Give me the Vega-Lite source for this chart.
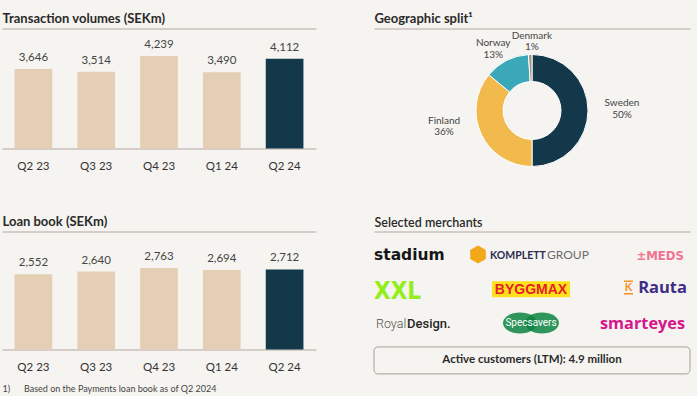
{
  "$schema": "https://vega.github.io/schema/vega-lite/v6.json",
  "background": "#f6f4f0",
  "padding": {"left": 2, "top": 11.5, "right": 4, "bottom": 2},
  "spacing": 55,
  "resolve": {"scale": {"color": "independent"}},
  "config": {
    "font": "Lato",
    "view": {"stroke": null},
    "axis": {"grid": false}
  },
  "hconcat": [
    {
      "bounds": "flush",
      "spacing": 83,
      "vconcat": [
        {
          "width": 314,
          "height": 120,
          "data": {"values": [
            {"quarter": "Q2 23", "value": 3646, "latest": "no"},
            {"quarter": "Q3 23", "value": 3514, "latest": "no"},
            {"quarter": "Q4 23", "value": 4239, "latest": "no"},
            {"quarter": "Q1 24", "value": 3490, "latest": "no"},
            {"quarter": "Q2 24", "value": 4112, "latest": "yes"}
          ]},
          "layer": [
            {
              "mark": {"type": "bar"},
              "encoding": {
                "x": {"field": "quarter", "type": "nominal", "sort": null,
                  "scale": {"paddingInner": 0.4, "paddingOuter": 0.2},
                  "axis": {"orient": "bottom", "title": null, "labelAngle": 0, "ticks": false, "labelPadding": 12, "labelFontSize": 11.5, "labelColor": "#333333", "domainColor": "#d6cdc8", "domainWidth": 2}},
                "y": {"field": "value", "type": "quantitative", "scale": {"domain": [0, 5355]}, "axis": null},
                "color": {"field": "latest", "type": "nominal", "scale": {"domain": ["no", "yes"], "range": ["#e4cfb5", "#12384a"]}, "legend": null}
              }
            },
            {
              "mark": {"type": "text", "baseline": "alphabetic", "dy": -8, "fontSize": 11.5, "color": "#444444"},
              "encoding": {
                "x": {"field": "quarter", "type": "nominal", "sort": null,
                  "axis": {"orient": "top", "labels": false, "ticks": false, "domainColor": "#d6cdc8", "domainWidth": 2, "title": "Transaction volumes (SEKm)", "titleAnchor": "start", "titleFontSize": 13, "titleFontWeight": "bold", "titleColor": "#2a2a2a", "titlePadding": 3.5}},
                "y": {"field": "value", "type": "quantitative"},
                "text": {"field": "value", "type": "quantitative", "format": ","}
              }
            }
          ],
          "resolve": {"axis": {"x": "independent"}}
        },
        {
          "width": 314,
          "height": 118,
          "data": {"values": [
            {"quarter": "Q2 23", "value": 2552, "latest": "no"},
            {"quarter": "Q3 23", "value": 2640, "latest": "no"},
            {"quarter": "Q4 23", "value": 2763, "latest": "no"},
            {"quarter": "Q1 24", "value": 2694, "latest": "no"},
            {"quarter": "Q2 24", "value": 2712, "latest": "yes"}
          ]},
          "layer": [
            {
              "mark": {"type": "bar"},
              "encoding": {
                "x": {"field": "quarter", "type": "nominal", "sort": null,
                  "scale": {"paddingInner": 0.4, "paddingOuter": 0.2},
                  "axis": {"orient": "bottom", "labelAngle": 0, "ticks": false, "labelPadding": 12, "labelFontSize": 11.5, "labelColor": "#333333", "domainColor": "#d6cdc8", "domainWidth": 2,
                    "title": "1)\u00a0\u00a0\u00a0\u00a0\u00a0\u00a0Based on the Payments loan book as of Q2 2024", "titleAnchor": "start", "titleFontSize": 9, "titleFontWeight": "normal", "titleColor": "#444444", "titlePadding": 11}},
                "y": {"field": "value", "type": "quantitative", "scale": {"domain": [0, 3583]}, "axis": null},
                "color": {"field": "latest", "type": "nominal", "scale": {"domain": ["no", "yes"], "range": ["#e4cfb5", "#12384a"]}, "legend": null}
              }
            },
            {
              "mark": {"type": "text", "baseline": "alphabetic", "dy": -8, "fontSize": 11.5, "color": "#444444"},
              "encoding": {
                "x": {"field": "quarter", "type": "nominal", "sort": null,
                  "axis": {"orient": "top", "labels": false, "ticks": false, "domainColor": "#d6cdc8", "domainWidth": 2, "title": "Loan book (SEKm)", "titleAnchor": "start", "titleFontSize": 13, "titleFontWeight": "bold", "titleColor": "#2a2a2a", "titlePadding": 3}},
                "y": {"field": "value", "type": "quantitative"},
                "text": {"field": "value", "type": "quantitative", "format": ","}
              }
            }
          ],
          "resolve": {"axis": {"x": "independent"}}
        }
      ]
    },
    {
      "bounds": "flush",
      "spacing": 39,
      "vconcat": [
        {
          "width": 316,
          "height": 164,
          "data": {"values": [
            {"country": "Sweden", "share": 50, "rank": 1, "label": "Sweden\n50%"},
            {"country": "Finland", "share": 36, "rank": 2, "label": "Finland\n36%"},
            {"country": "Norway", "share": 13, "rank": 3, "label": "Norway\n13%"},
            {"country": "Denmark", "share": 1, "rank": 4, "label": "Denmark\n1%"}
          ]},
          "layer": [
            {
              "mark": {"type": "point", "opacity": 0},
              "encoding": {
                "x": {"datum": 0.5, "type": "quantitative", "scale": {"domain": [0, 1]},
                  "axis": {"orient": "top", "labels": false, "ticks": false, "domainColor": "#d6cdc8", "domainWidth": 2, "title": "Geographic split¹", "titleAnchor": "start", "titleFontSize": 13, "titleFontWeight": "bold", "titleColor": "#2a2a2a", "titlePadding": 3.5}}
              }
            },
            {
              "mark": {"type": "arc", "innerRadius": 29, "outerRadius": 56, "stroke": "#ffffff", "strokeWidth": 1},
              "encoding": {
                "theta": {"field": "share", "type": "quantitative", "stack": true},
                "order": {"field": "rank", "type": "quantitative"},
                "color": {"field": "country", "type": "nominal", "scale": {"domain": ["Sweden", "Finland", "Norway", "Denmark"], "range": ["#12384a", "#f2b94c", "#3aa8b8", "#a5927d"]}, "legend": null}
              }
            },
            {
              "mark": {"type": "text", "radius": 50, "dx": 40, "dy": -7.5, "fontSize": 10, "color": "#444444", "lineBreak": "\n", "lineHeight": 11.5},
              "encoding": {
                "theta": {"field": "share", "type": "quantitative", "stack": true},
                "order": {"field": "rank", "type": "quantitative"},
                "detail": {"field": "country", "type": "nominal"},
                "text": {"condition": {"test": "datum.country === 'Sweden'", "field": "label", "type": "nominal"}, "value": ""}
              }
            },
            {
              "mark": {"type": "text", "radius": 36.4, "dx": -55, "dy": -5, "fontSize": 10, "color": "#444444", "lineBreak": "\n", "lineHeight": 11.5},
              "encoding": {
                "theta": {"field": "share", "type": "quantitative", "stack": true},
                "order": {"field": "rank", "type": "quantitative"},
                "detail": {"field": "country", "type": "nominal"},
                "text": {"condition": {"test": "datum.country === 'Finland'", "field": "label", "type": "nominal"}, "value": ""}
              }
            },
            {
              "mark": {"type": "text", "radius": 70, "dx": -7, "dy": -5, "fontSize": 10, "color": "#444444", "lineBreak": "\n", "lineHeight": 11.5},
              "encoding": {
                "theta": {"field": "share", "type": "quantitative", "stack": true},
                "order": {"field": "rank", "type": "quantitative"},
                "detail": {"field": "country", "type": "nominal"},
                "text": {"condition": {"test": "datum.country === 'Norway'", "field": "label", "type": "nominal"}, "value": ""}
              }
            },
            {
              "mark": {"type": "text", "radius": 70, "dx": 2, "dy": -5, "fontSize": 10, "color": "#444444", "lineBreak": "\n", "lineHeight": 11.5},
              "encoding": {
                "theta": {"field": "share", "type": "quantitative", "stack": true},
                "order": {"field": "rank", "type": "quantitative"},
                "detail": {"field": "country", "type": "nominal"},
                "text": {"condition": {"test": "datum.country === 'Denmark'", "field": "label", "type": "nominal"}, "value": ""}
              }
            }
          ]
        },
        {
          "width": 316,
          "height": 151,
          "data": {"values": [
            {"merchant": "Stadium", "col": "left", "row": "r1"},
            {"merchant": "Komplett Group", "col": "mid", "row": "r1"},
            {"merchant": "MEDS", "col": "right", "row": "r1"},
            {"merchant": "XXL", "col": "left", "row": "r2"},
            {"merchant": "Byggmax", "col": "mid", "row": "r2"},
            {"merchant": "K-Rauta", "col": "right", "row": "r2"},
            {"merchant": "RoyalDesign", "col": "left", "row": "r3"},
            {"merchant": "Specsavers", "col": "mid", "row": "r3"},
            {"merchant": "Smarteyes", "col": "right", "row": "r3"},
            {"merchant": "Active customers", "col": "mid", "row": "box"}
          ]},
          "encoding": {
            "x": {"field": "col", "type": "nominal",
              "scale": {"type": "point", "domain": ["left", "mid", "right"], "padding": 0},
              "axis": {"orient": "top", "labels": false, "ticks": false, "domainColor": "#d6cdc8", "domainWidth": 2, "title": "Selected merchants", "titleAnchor": "start", "titleFontSize": 12.5, "titleFontWeight": 600, "titleColor": "#2a2a2a", "titlePadding": 2.5}},
            "y": {"field": "row", "type": "nominal",
              "scale": {"type": "point", "domain": ["r1", "r2", "r3", "box"], "padding": 0.62},
              "axis": null}
          },
          "layer": [
            {
              "transform": [{"filter": "datum.merchant === 'Stadium'"}],
              "mark": {"type": "text", "align": "left", "baseline": "alphabetic", "dy": 6, "font": "DejaVu Sans", "fontWeight": "bold", "fontSize": 15.5, "color": "#161616"},
              "encoding": {"text": {"value": "stadium"}}
            },
            {
              "transform": [{"filter": "datum.merchant === 'Komplett Group'"}],
              "mark": {"type": "point", "filled": true, "opacity": 1, "color": "#f3a81c", "size": 324, "xOffset": -54, "yOffset": 1,
                "shape": "M0,-1L0.87,-0.5L0.87,0.5L0,1L-0.87,0.5L-0.87,-0.5Z"}
            },
            {
              "transform": [{"filter": "datum.merchant === 'Komplett Group'"}],
              "mark": {"type": "text", "align": "left", "baseline": "alphabetic", "dx": -42, "dy": 5, "fontWeight": "bold", "fontSize": 10.5, "color": "#2b2d4e"},
              "encoding": {"text": {"value": "KOMPLETT"}}
            },
            {
              "transform": [{"filter": "datum.merchant === 'Komplett Group'"}],
              "mark": {"type": "text", "align": "left", "baseline": "alphabetic", "dx": 15, "dy": 5, "fontSize": 12, "color": "#6b6b6b"},
              "encoding": {"text": {"value": "GROUP"}}
            },
            {
              "transform": [{"filter": "datum.merchant === 'MEDS'"}],
              "mark": {"type": "text", "align": "right", "baseline": "alphabetic", "dx": -6, "dy": 6, "font": "DejaVu Sans Condensed, Roboto", "fontWeight": "bold", "fontSize": 13, "color": "#ef7391"},
              "encoding": {"text": {"value": "±MEDS"}}
            },
            {
              "transform": [{"filter": "datum.merchant === 'XXL'"}],
              "mark": {"type": "text", "align": "left", "baseline": "alphabetic", "dy": 10, "font": "DejaVu Sans Condensed, Roboto", "fontWeight": "bold", "fontSize": 24, "color": "#93ee1b"},
              "encoding": {"text": {"value": "XXL"}}
            },
            {
              "transform": [{"filter": "datum.merchant === 'Byggmax'"}],
              "mark": {"type": "point", "filled": true, "opacity": 1, "color": "#ffe11b", "size": 6084, "xOffset": -1,
                "shape": "M-1,-0.205H1V0.205H-1Z"}
            },
            {
              "transform": [{"filter": "datum.merchant === 'Byggmax'"}],
              "mark": {"type": "text", "align": "center", "baseline": "alphabetic", "dx": -1, "dy": 5, "font": "Liberation Sans", "fontWeight": "bold", "fontSize": 14, "color": "#e32129"},
              "encoding": {"text": {"value": "BYGGMAX"}}
            },
            {
              "transform": [{"filter": "datum.merchant === 'K-Rauta'"}],
              "mark": {"type": "point", "filled": true, "opacity": 1, "color": "#f58f1f", "size": 196, "xOffset": -61.5, "yOffset": -1.7,
                "shape": "M-0.643,-1H0.643V-0.8H-0.643ZM-0.643,0.8H0.643V1H-0.643Z"}
            },
            {
              "transform": [{"filter": "datum.merchant === 'K-Rauta'"}],
              "mark": {"type": "text", "align": "center", "baseline": "alphabetic", "dx": -61.5, "dy": 2, "fontWeight": "bold", "fontSize": 11, "color": "#f58f1f"},
              "encoding": {"text": {"value": "K"}}
            },
            {
              "transform": [{"filter": "datum.merchant === 'K-Rauta'"}],
              "mark": {"type": "text", "align": "right", "baseline": "alphabetic", "dx": -3, "dy": 3.6, "font": "Open Sans", "fontWeight": "bold", "fontSize": 16.5, "color": "#3e2c85"},
              "encoding": {"text": {"value": "Rauta"}}
            },
            {
              "transform": [{"filter": "datum.merchant === 'RoyalDesign'"}],
              "mark": {"type": "text", "align": "left", "baseline": "alphabetic", "dx": 2, "dy": 3, "font": "Roboto", "fontWeight": 300, "fontSize": 12.5, "color": "#505050"},
              "encoding": {"text": {"value": "Royal"}}
            },
            {
              "transform": [{"filter": "datum.merchant === 'RoyalDesign'"}],
              "mark": {"type": "text", "align": "left", "baseline": "alphabetic", "dx": 33, "dy": 3, "font": "Roboto", "fontWeight": 500, "fontSize": 13, "color": "#262626"},
              "encoding": {"text": {"value": "Design."}}
            },
            {
              "transform": [{"filter": "datum.merchant === 'Specsavers'"}],
              "mark": {"type": "point", "filled": true, "opacity": 0.85, "color": "#0d8442", "size": 1156, "xOffset": -12, "yOffset": -1.8,
                "shape": "M-1,0A1,0.62,0,1,0,1,0A1,0.62,0,1,0,-1,0Z"}
            },
            {
              "transform": [{"filter": "datum.merchant === 'Specsavers'"}],
              "mark": {"type": "point", "filled": true, "opacity": 0.85, "color": "#0d8442", "size": 1156, "xOffset": 10, "yOffset": -1.8,
                "shape": "M-1,0A1,0.62,0,1,0,1,0A1,0.62,0,1,0,-1,0Z"}
            },
            {
              "transform": [{"filter": "datum.merchant === 'Specsavers'"}],
              "mark": {"type": "text", "align": "center", "baseline": "middle", "dx": -1, "dy": -2, "font": "Roboto", "fontSize": 10, "color": "#ffffff"},
              "encoding": {"text": {"value": "Specsavers"}}
            },
            {
              "transform": [{"filter": "datum.merchant === 'Smarteyes'"}],
              "mark": {"type": "text", "align": "right", "baseline": "alphabetic", "dx": -5, "dy": 3.7, "font": "Open Sans", "fontWeight": "bold", "fontSize": 16.3, "color": "#d6168b"},
              "encoding": {"text": {"value": "smarteyes"}}
            },
            {
              "transform": [{"filter": "datum.merchant === 'Active customers'"}],
              "mark": {"type": "point", "filled": false, "opacity": 1, "color": "#a89e99", "strokeWidth": 1, "size": 99856,
                "shape": "M-0.975,-0.0854H0.975A0.0253,0.0253,0,0,1,1,-0.0601V0.0601A0.0253,0.0253,0,0,1,0.975,0.0854H-0.975A0.0253,0.0253,0,0,1,-1,0.0601V-0.0601A0.0253,0.0253,0,0,1,-0.975,-0.0854Z"}
            },
            {
              "transform": [{"filter": "datum.merchant === 'Active customers'"}],
              "mark": {"type": "text", "align": "center", "baseline": "middle", "fontWeight": "bold", "fontSize": 11.5, "color": "#2b2b2b"},
              "encoding": {"text": {"value": "Active customers (LTM): 4.9 million"}}
            }
          ]
        }
      ]
    }
  ]
}
